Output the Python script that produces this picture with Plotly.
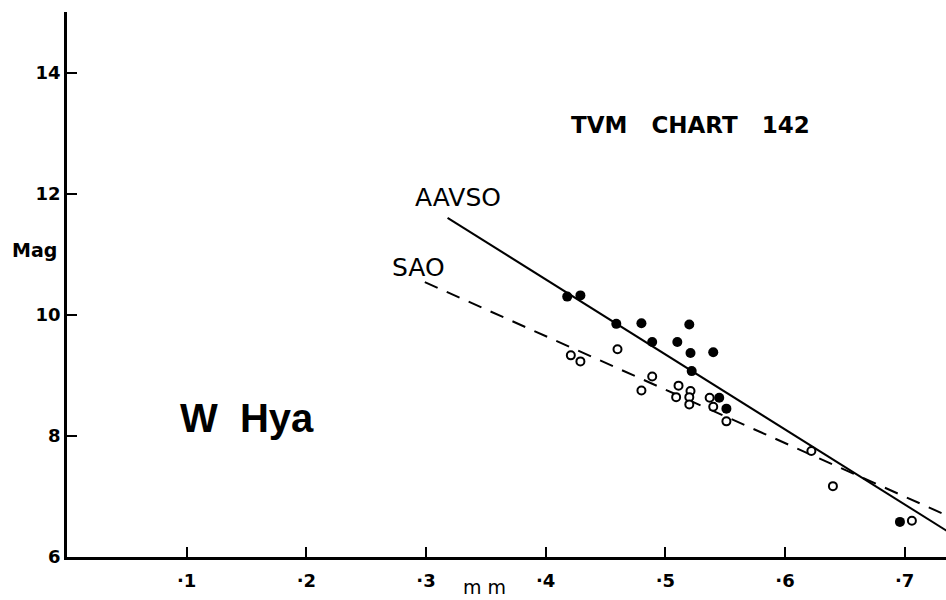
import plotly.graph_objects as go

# --- data ---
filled_x = [0.418, 0.429, 0.459, 0.480, 0.520, 0.489, 0.510, 0.521, 0.540, 0.522, 0.545, 0.551, 0.696]
filled_y = [10.30, 10.32, 9.85, 9.86, 9.84, 9.55, 9.55, 9.37, 9.38, 9.07, 8.63, 8.45, 6.58]

open_x = [0.421, 0.429, 0.460, 0.489, 0.480, 0.511, 0.521, 0.509, 0.520, 0.520, 0.537, 0.540, 0.551, 0.622, 0.640, 0.706]
open_y = [9.33, 9.23, 9.43, 8.98, 8.75, 8.83, 8.74, 8.64, 8.64, 8.52, 8.63, 8.48, 8.24, 7.75, 7.17, 6.60]

aavso_x = [0.318, 0.745]
aavso_y = [11.60, 6.31]
sao_x = [0.299, 0.745]
sao_y = [10.54, 6.60]

x_tickvals = [0.1, 0.2, 0.3, 0.4, 0.5, 0.6, 0.7]
x_ticktext = ["·1", "·2", "·3", "·4", "·5", "·6", "·7"]
y_tickvals = [6, 8, 10, 12, 14]
y_ticktext = ["6", "8", "10", "12", "14"]

FONT = "DejaVu Sans"

fig = go.Figure()
fig.add_trace(go.Scatter(x=aavso_x, y=aavso_y, mode="lines",
                         line=dict(color="black", width=2), showlegend=False))
fig.add_trace(go.Scatter(x=sao_x, y=sao_y, mode="lines",
                         line=dict(color="black", width=2, dash="14px,10px"), showlegend=False))
fig.add_trace(go.Scatter(x=filled_x, y=filled_y, mode="markers",
                         marker=dict(color="black", size=10, line=dict(width=0)), showlegend=False))
fig.add_trace(go.Scatter(x=open_x, y=open_y, mode="markers",
                         marker=dict(color="white", size=8, line=dict(color="black", width=2)),
                         showlegend=False))

ann = [
    dict(x=0.521, y=13.14, xref="x", yref="y", text="TVM\u00a0\u00a0\u00a0CHART\u00a0\u00a0\u00a0142",
         font=dict(size=23, family=FONT, weight="bold")),
    dict(x=0.3265, y=11.94, xref="x", yref="y", text="AAVSO", font=dict(size=25, family=FONT)),
    dict(x=0.2937, y=10.785, xref="x", yref="y", text="SAO", font=dict(size=25, family=FONT)),
    dict(x=0.150, y=8.29, xref="x", yref="y", text="W\u00a0\u00a0Hya",
         font=dict(size=40, family="Liberation Sans", weight="bold")),
    dict(x=-0.0375, y=0.563, xref="paper", yref="paper", text="Mag",
         font=dict(size=19, family=FONT, weight="bold")),
    dict(x=0.4755, y=-0.055, xref="paper", yref="paper", text="m\u00a0m",
         font=dict(size=19, family=FONT), borderpad=0),
]
for a in ann:
    a.update(showarrow=False, xanchor="center", yanchor="middle")
    a["font"]["color"] = "black"

fig.update_layout(
    width=946, height=600,
    margin=dict(l=67, r=0, t=12, b=43),
    paper_bgcolor="white", plot_bgcolor="white",
    annotations=ann,
    xaxis=dict(range=[0, 0.7345], showgrid=False, zeroline=False,
               showline=True, linecolor="black", linewidth=2.5,
               ticks="inside", ticklen=10, tickwidth=2, tickcolor="black",
               tickvals=x_tickvals, ticktext=x_ticktext, ticklabelstandoff=6,
               tickfont=dict(size=18, family=FONT, color="black", weight="bold")),
    yaxis=dict(range=[6, 15], showgrid=False, zeroline=False,
               showline=True, linecolor="black", linewidth=2.5,
               ticks="inside", ticklen=10, tickwidth=2, tickcolor="black",
               tickvals=y_tickvals, ticktext=y_ticktext,
               tickfont=dict(size=18, family=FONT, color="black", weight="bold")),
)

fig.write_html("out.html", config={"displayModeBar": False},
               post_script="document.body.style.margin='0';document.body.style.overflow='hidden';")
